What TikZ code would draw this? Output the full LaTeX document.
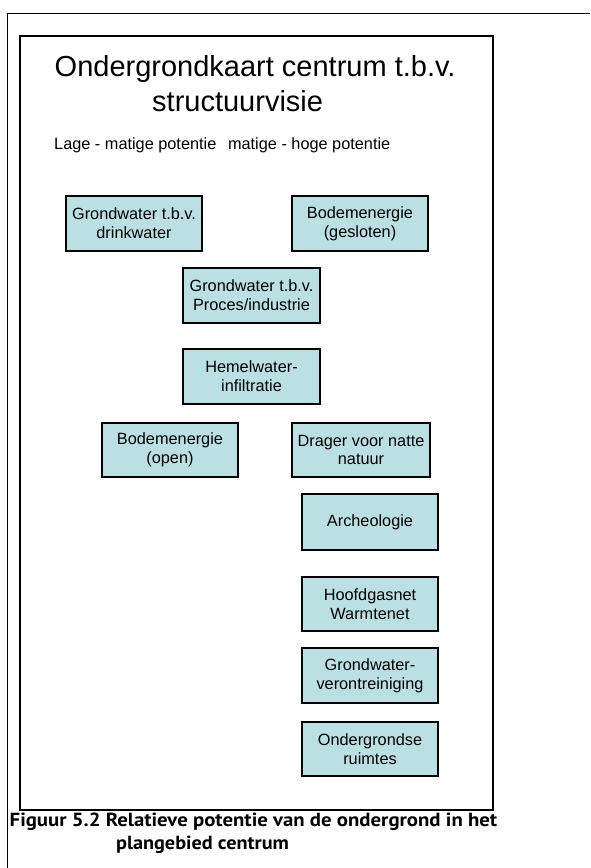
\documentclass[tikz,border=0pt]{standalone}
\usepackage{fontspec}
\setmainfont{Liberation Sans}
\newfontfamily\capfont{PT Sans Bold}
\definecolor{boxfill}{RGB}{187,224,227}
\tikzset{
  pbox/.style={draw=black, line width=2pt, fill=boxfill, inner sep=0pt,
    align=center, font=\fontsize{16.3}{18.7}\selectfont},
  titletext/.style={inner sep=0pt, anchor=base west, font=\fontsize{29}{35}\selectfont},
  subtext/.style={inner sep=0pt, anchor=base west, font=\fontsize{16.3}{19}\selectfont},
  captext/.style={inner sep=0pt, anchor=base west, font=\capfont\fontsize{19}{22}\selectfont},
}
\begin{document}
\begin{tikzpicture}[x=1pt, y=-1pt]
\useasboundingbox (0,0) rectangle (590,868);
% outer frame (partial)
\draw[line width=1pt] (7.5,868) -- (7.5,13) -- (590,13);
% inner frame
\draw[line width=2pt] (20,36) rectangle (493,810);
% titles
\node[titletext] (t1) at (54.5,76.7) {Ondergrondkaart centrum t.b.v.};
\node[titletext] (t2) at (152,111.7) {structuurvisie};
\node[subtext] (sub) at (54,149.3) {Lage - matige potentie\hspace{11.7pt}matige - hoge potentie};
% boxes
\newcommand{\pb}[6]{\node[pbox, minimum width=#4-#2, minimum height=#5-#3] (#1) at ({(#2+#4)/2},{(#3+#5)/2}) {#6};}
\pb{gwdrink}{66}{196}{202}{251}{Grondwater t.b.v.\\drinkwater}
\pb{bodgesl}{292}{196}{428}{251}{Bodemenergie\\(gesloten)}
\pb{gwproc}{183}{268}{320}{323}{Grondwater t.b.v.\\Proces/industrie}
\pb{hemel}{183}{349}{320}{404}{Hemelwater-\\infiltratie}
\pb{bodopen}{102}{423}{238}{477}{Bodemenergie\\(open)}
\pb{drager}{292}{423}{430}{477}{Drager voor natte\\natuur}
\pb{arch}{302}{494}{438}{550}{Archeologie}
\pb{hoofd}{302}{577}{438}{631}{Hoofdgasnet\\Warmtenet}
\pb{gwveront}{302}{648}{438}{703}{Grondwater-\\verontreiniging}
\pb{ruimtes}{302}{722}{438}{776}{Ondergrondse\\ruimtes}
% caption
\node[captext] (cap1) at (9.5,826.7) {\scalebox{1.094}[1]{Figuur 5.2 Relatieve potentie van de ondergrond in het}};
\node[captext] (cap2) at (116,849.3) {\scalebox{1.065}[1]{plangebied centrum}};
\end{tikzpicture}
\end{document}
